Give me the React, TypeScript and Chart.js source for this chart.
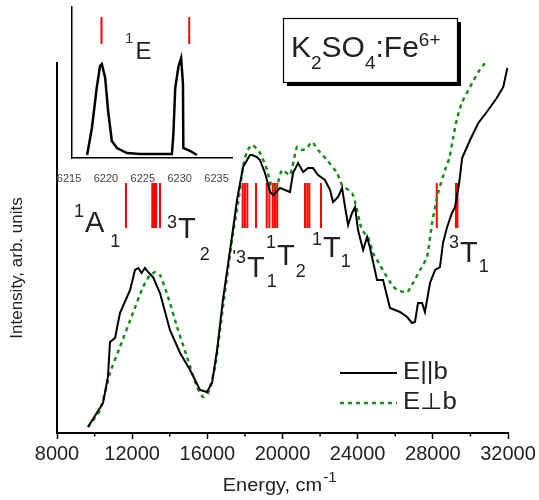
import React, { useEffect, useRef } from 'react';
import { Chart, registerables } from 'chart.js';

Chart.register(...registerables);

const FONT = '"Liberation Sans", Arial, sans-serif';

// ---- main spectrum data ----
const energyPar = [9650, 10450, 10710, 10820, 11090, 11350, 11890, 12150, 12330, 12500, 12680, 12850, 13110, 13480, 14010, 14550, 15080, 15610, 15980, 16250, 16520, 16830, 17310, 17580, 17900, 18270, 18380, 18640, 18800, 19070, 19340, 19500, 19870, 20130, 20400, 20560, 20830, 21100, 21360, 21620, 21890, 22260, 22530, 22690, 22960, 23170, 23330, 23490, 23700, 23860, 24020, 24290, 24500, 24660, 25030, 25350, 25720, 26250, 26630, 26890, 27050, 27210, 27430, 27580, 27850, 28120, 28380, 28540, 28760, 29020, 29180, 29400, 29560, 29980, 30420, 30870, 31400, 31750, 31965];
const intensityPar = [6, 30, 56, 91, 95, 120, 143, 163, 165, 160, 165, 161, 156, 140, 103, 80, 63, 43, 41, 50, 83, 133, 196, 233, 266, 278, 278, 276, 273, 260, 241, 238, 245, 243, 241, 260, 270, 261, 265, 265, 258, 253, 243, 231, 236, 245, 226, 208, 220, 226, 203, 183, 196, 185, 153, 153, 125, 121, 116, 110, 111, 130, 130, 121, 150, 163, 166, 190, 206, 220, 226, 250, 275, 293, 310, 321, 335, 346, 365];

const energyPerp = [9650, 10290, 10820, 11350, 12040, 12580, 12950, 13250, 13480, 13910, 14390, 14920, 15450, 15770, 16040, 16410, 16830, 17310, 17630, 17900, 18100, 18380, 18800, 19180, 19450, 19710, 19980, 20400, 20770, 21050, 21300, 21570, 21890, 22370, 22900, 23170, 23700, 23860, 24230, 24550, 24820, 25190, 25720, 26090, 26630, 26950, 27320, 27690, 27960, 28280, 28650, 28880, 29090, 29270, 29540, 29980, 30420, 30780];
const intensityPerp = [6, 23, 60, 86, 120, 146, 158, 161, 158, 136, 106, 76, 46, 36, 40, 66, 126, 193, 230, 266, 281, 288, 280, 263, 245, 248, 263, 258, 286, 283, 285, 291, 283, 273, 260, 248, 240, 231, 203, 196, 180, 168, 151, 143, 141, 150, 163, 176, 210, 240, 263, 275, 296, 313, 330, 346, 361, 370];

// calculated transition energies (red bars)
const transitionEnergies = [11670, 13070, 13130, 13180, 13230, 13280, 13480, 17880, 18000, 18130, 18590, 19160, 19300, 19480, 19600, 19720, 21200, 21320, 21430, 22050, 28210, 29230, 29310];
const transitionRange = [205, 250];

const xMajorTicks = [8000, 12000, 16000, 20000, 24000, 28000, 32000];
const xMinorTicks = [10000, 14000, 18000, 22000, 26000, 30000];

const seriesNames = ['E||b', 'E\u22A5b'];

// ---- inset (1E zero-phonon lines) ----
const insetEnergy = [6217.45, 6218.1, 6218.75, 6219.2, 6219.45, 6219.9, 6220.3, 6220.8, 6221.5, 6222.85, 6224.65, 6228.95, 6229.15, 6229.4, 6229.85, 6230.2, 6230.45, 6230.5, 6231.45, 6232.35];
const insetIntensity = [3, 30, 70, 92, 94, 80, 47, 17, 10, 5, 4, 4, 24, 70, 92, 100, 74, 10, 7, 3];
const insetLines = [6219.4, 6231.3];
const insetLineRange = [114, 141];
const insetTicks = [6215, 6220, 6225, 6230, 6235];

// state labels: left superscript, term letter, subscript
const stateLabels = [
  { sup: '1', main: 'A', sub: '1', e: 9490, v: 201, supDy: -15, subDy: 15, gap: 6 },
  { sup: '3', main: 'T', sub: '2', e: 14440, v: 195, supDy: -10, subDy: 22, gap: 4 },
  { sup: "'3", main: 'T', sub: '1', e: 18110, v: 156, supDy: -14, subDy: 10, gap: 2 },
  { sup: '1', main: 'T', sub: '2', e: 19710, v: 168, supDy: -17, subDy: 12, gap: 1 },
  { sup: '1', main: 'T', sub: '1', e: 22160, v: 176, supDy: -12, subDy: 10, gap: 0 },
  { sup: '3', main: 'T', sub: '1', e: 29450, v: 171, supDy: -14, subDy: 10, gap: 1 },
];

function stretchedText(ctx: CanvasRenderingContext2D, text: string, x: number, y: number, sx: number) {
  ctx.save();
  ctx.translate(x, y);
  ctx.scale(sx, 1);
  ctx.fillText(text, 0, 0);
  ctx.restore();
}

function drawState(ctx: CanvasRenderingContext2D, px: number, py: number, lab: any) {
  ctx.fillStyle = '#222';
  ctx.textBaseline = 'alphabetic';
  ctx.font = `29px ${FONT}`;
  const w = ctx.measureText(lab.main).width;
  ctx.textAlign = 'left';
  ctx.fillText(lab.main, px, py);
  ctx.font = `18px ${FONT}`;
  ctx.textAlign = 'right';
  ctx.fillText(lab.sup, px - 1, py + lab.supDy);
  ctx.textAlign = 'left';
  ctx.fillText(lab.sub, px + w + lab.gap, py + lab.subDy);
}

const mainDecor = {
  id: 'mainDecor',
  beforeDatasetsDraw(chart: any) {
    const { ctx, scales: { x, y } } = chart;
    ctx.save();
    ctx.strokeStyle = '#ff0000';
    ctx.lineWidth = 2;
    transitionEnergies.forEach((e) => {
      const px = x.getPixelForValue(e);
      ctx.beginPath();
      ctx.moveTo(px, y.getPixelForValue(transitionRange[0]));
      ctx.lineTo(px, y.getPixelForValue(transitionRange[1]));
      ctx.stroke();
    });
    ctx.restore();
  },
  afterDraw(chart: any) {
    const { ctx, chartArea, scales: { x, y } } = chart;
    ctx.save();
    // minor ticks
    ctx.strokeStyle = '#000';
    ctx.lineWidth = 1.5;
    xMinorTicks.forEach((v) => {
      const px = x.getPixelForValue(v);
      ctx.beginPath();
      ctx.moveTo(px, chartArea.bottom);
      ctx.lineTo(px, chartArea.bottom + 3.5);
      ctx.stroke();
    });

    // state labels
    stateLabels.forEach((lab) => drawState(ctx, x.getPixelForValue(lab.e), y.getPixelForValue(lab.v), lab));

    // x title
    ctx.fillStyle = '#222';
    ctx.textAlign = 'left';
    ctx.textBaseline = 'alphabetic';
    ctx.font = `19px ${FONT}`;
    const t1 = 'Energy, cm';
    const w1 = ctx.measureText(t1).width * 1.05;
    const cx = (chartArea.left + chartArea.right) / 2 - 2;
    const sx0 = cx - (w1 + 16) / 2;
    stretchedText(ctx, t1, sx0, chartArea.bottom + 58, 1.05);
    ctx.font = `15px ${FONT}`;
    ctx.fillText('-1', sx0 + w1 + 1, chartArea.bottom + 49);

    // y title
    ctx.save();
    ctx.translate(chartArea.left - 40, chartArea.top + 205);
    ctx.rotate(-Math.PI / 2);
    ctx.textAlign = 'center';
    ctx.textBaseline = 'middle';
    ctx.font = `17px ${FONT}`;
    ctx.fillText('Intensity, arb. units', 0, 0);
    ctx.restore();

    // title box with shadow
    const bx = chartArea.left + 226;
    const by = chartArea.top - 45;
    const bw = 174;
    const bh = 64;
    ctx.fillStyle = '#000';
    ctx.fillRect(bx + 4, by + 4, bw, bh);
    ctx.fillStyle = '#fff';
    ctx.fillRect(bx, by, bw, bh);
    ctx.strokeStyle = '#000';
    ctx.lineWidth = 1.2;
    ctx.strokeRect(bx + 0.5, by + 0.5, bw, bh);
    ctx.fillStyle = '#222';
    const parts = [
      { t: 'K', s: 30, dy: 0 },
      { t: '2', s: 19, dy: 12 },
      { t: 'SO', s: 30, dy: 0 },
      { t: '4', s: 19, dy: 12 },
      { t: ':Fe', s: 30, dy: 0 },
      { t: '6+', s: 19, dy: -11 },
    ];
    let tx = bx + 8;
    const base = by + 39;
    parts.forEach((p) => {
      ctx.font = `${p.s}px ${FONT}`;
      ctx.fillText(p.t, tx, base + p.dy);
      tx += ctx.measureText(p.t).width;
    });

    // legend
    const ds = chart.data.datasets;
    const lx0 = chartArea.right - 168;
    const lx1 = chartArea.right - 111;
    const rows = [y.getPixelForValue(60), y.getPixelForValue(30)];
    ds.forEach((d: any, i: number) => {
      ctx.save();
      ctx.strokeStyle = d.borderColor;
      ctx.lineWidth = d.borderWidth;
      ctx.setLineDash(d.borderDash || []);
      ctx.beginPath();
      ctx.moveTo(lx0, rows[i]);
      ctx.lineTo(lx1, rows[i]);
      ctx.stroke();
      ctx.restore();
      ctx.fillStyle = '#222';
      ctx.font = `23px ${FONT}`;
      ctx.textBaseline = 'middle';
      ctx.textAlign = 'left';
      stretchedText(ctx, d.label, chartArea.right - 105, rows[i], 1.12);
    });
    ctx.restore();
  },
};

const insetDecor = {
  id: 'insetDecor',
  afterDraw(chart: any) {
    const { ctx, scales: { x, y } } = chart;
    ctx.save();
    ctx.strokeStyle = '#ff0000';
    ctx.lineWidth = 2;
    insetLines.forEach((e) => {
      const px = x.getPixelForValue(e);
      ctx.beginPath();
      ctx.moveTo(px, y.getPixelForValue(insetLineRange[0]));
      ctx.lineTo(px, y.getPixelForValue(insetLineRange[1]));
      ctx.stroke();
    });
    const px = x.getPixelForValue(6224.0);
    const py = y.getPixelForValue(99);
    ctx.fillStyle = '#222';
    ctx.textBaseline = 'alphabetic';
    ctx.textAlign = 'left';
    ctx.font = `24px ${FONT}`;
    ctx.fillText('E', px, py);
    ctx.font = `15px ${FONT}`;
    ctx.textAlign = 'right';
    ctx.fillStyle = '#3a2a3a';
    ctx.fillText('1', px - 2, py - 16);
    ctx.restore();
  },
};

export default function App() {
  const mainRef = useRef<HTMLCanvasElement | null>(null);
  const insetRef = useRef<HTMLCanvasElement | null>(null);

  useEffect(() => {
    if (!mainRef.current || !insetRef.current) return;
    const main = new Chart(mainRef.current, {
      type: 'line',
      data: {
        datasets: [
          {
            label: seriesNames[0],
            data: energyPar.map((e, i) => ({ x: e, y: intensityPar[i] })),
            borderColor: '#000000',
            borderWidth: 2,
            pointRadius: 0,
            tension: 0,
            fill: false,
          },
          {
            label: seriesNames[1],
            data: energyPerp.map((e, i) => ({ x: e, y: intensityPerp[i] })),
            borderColor: '#1b8c1b',
            borderWidth: 2.5,
            borderDash: [4, 4],
            pointRadius: 0,
            tension: 0.2,
            fill: false,
          },
        ],
      },
      options: {
        responsive: false,
        maintainAspectRatio: false,
        animation: false,
        layout: { padding: { top: 63, right: 31, left: 0, bottom: 0 } },
        plugins: { legend: { display: false }, tooltip: { enabled: false } },
        scales: {
          x: {
            type: 'linear',
            min: 8000,
            max: 32000,
            afterBuildTicks: (s: any) => {
              s.ticks = xMajorTicks.map((v) => ({ value: v }));
            },
            afterFit: (s: any) => {
              s.height = 67;
            },
            border: { display: true, color: '#000', width: 2 },
            grid: { display: true, drawOnChartArea: false, drawTicks: true, tickLength: 6, tickColor: '#000', tickWidth: 1.5 },
            ticks: {
              color: '#222',
              font: { family: FONT, size: 20 },
              padding: 3,
              maxRotation: 0,
              autoSkip: false,
              callback: (v: any) => String(v),
            },
          },
          y: {
            type: 'linear',
            min: 0,
            max: 370,
            afterFit: (s: any) => {
              s.width = 57;
            },
            ticks: { display: false },
            grid: { display: false },
            border: { display: true, color: '#000', width: 2 },
          },
        },
      },
      plugins: [mainDecor],
    } as any);

    const inset = new Chart(insetRef.current, {
      type: 'line',
      data: {
        datasets: [
          {
            data: insetEnergy.map((e, i) => ({ x: e, y: insetIntensity[i] })),
            borderColor: '#000000',
            borderWidth: 2.5,
            pointRadius: 0,
            tension: 0,
            fill: false,
          },
        ],
      },
      options: {
        responsive: false,
        maintainAspectRatio: false,
        animation: false,
        layout: { padding: { top: 7, right: 18, left: 0, bottom: 0 } },
        plugins: { legend: { display: false }, tooltip: { enabled: false } },
        scales: {
          x: {
            type: 'linear',
            min: 6215.4,
            max: 6237.1,
            afterBuildTicks: (s: any) => {
              s.ticks = insetTicks.map((v) => ({ value: v }));
            },
            afterFit: (s: any) => {
              s.height = 27;
            },
            border: { display: true, color: '#000', width: 1.5 },
            grid: { display: false },
            ticks: {
              color: '#444',
              font: { family: FONT, size: 11 },
              padding: 6,
              maxRotation: 0,
              autoSkip: false,
              callback: (v: any) => String(v),
            },
          },
          y: {
            type: 'linear',
            min: 0,
            max: 151,
            afterFit: (s: any) => {
              s.width = 22;
            },
            ticks: { display: false },
            grid: { display: false },
            border: { display: true, color: '#000', width: 1.5 },
          },
        },
      },
      plugins: [insetDecor],
    } as any);

    return () => {
      main.destroy();
      inset.destroy();
    };
  }, []);

  return (
    <div style={{ position: 'fixed', left: 0, top: 0, width: 539, height: 500, background: '#fff' }}>
      <canvas ref={mainRef} width={539} height={500} style={{ position: 'absolute', left: 0, top: 0 }} />
      <canvas ref={insetRef} width={200} height={185} style={{ position: 'absolute', left: 50, top: 0 }} />
    </div>
  );
}
